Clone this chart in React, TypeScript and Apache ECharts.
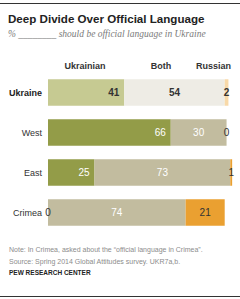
import React, { useEffect, useRef } from "react";
import * as echarts from "echarts";

const categories = ["Ukraine", "West", "East", "Crimea"];
const ukrainian = [41, 66, 25, 0];
const both = [54, 30, 73, 74];
const russian = [2, 0, 1, 21];
const headers = ["Ukrainian", "Both", "Russian"];

const title = "Deep Divide Over Official Language";
const subtitle = "% ________ should be official language in Ukraine";
const note = "Note: In Crimea, asked about the \u201cofficial language in Crimea\u201d.";
const source = "Source: Spring 2014 Global Attitudes survey. UKR7a,b.";
const brand = "PEW RESEARCH CENTER";

const FONT = "'Liberation Sans', Arial, sans-serif";

const lightColors = ["#c6ca92", "#eeece5", "#f8d9a8"];
const darkColors = ["#939c48", "#c2bc9f", "#eaa031"];

export default function App() {
  const ref = useRef<HTMLDivElement>(null);

  useEffect(() => {
    document.body.style.margin = "0";
    if (!ref.current) return;
    const chart = echarts.init(ref.current, null, { renderer: "svg" });

    const mkItems = (vals: number[], si: number) =>
      vals.map((v, i) => {
        const highlight = i === 0;
        let labelColor = "#fff";
        if (highlight || si === 2) labelColor = "#333";
        const item: any = {
          value: v,
          itemStyle: { color: highlight ? lightColors[si] : darkColors[si] },
          label: {
            color: labelColor,
            fontWeight: highlight ? "bold" : "normal",
          },
        };
        if (si === 0 && v === 0) {
          item.label.position = "inside";
          item.label.color = "#333";
        }
        return item;
      });

    const baseLabel = {
      show: true,
      fontSize: 10,
      fontFamily: FONT,
    };

    const header = (text: string, x: number, align: string) => ({
      type: "text",
      x,
      y: 66,
      style: {
        text,
        fontSize: 9,
        fontWeight: "bold",
        fontFamily: FONT,
        fill: "#333",
        align,
        verticalAlign: "middle",
      },
    });

    chart.setOption({
      animation: false,
      textStyle: { fontFamily: FONT },
      grid: { left: 48, width: 186, top: 72.5, height: 160, containLabel: false },
      xAxis: {
        type: "value",
        min: 0,
        max: 100,
        show: false,
      },
      yAxis: {
        type: "category",
        data: categories,
        inverse: true,
        axisLine: { show: false },
        axisTick: { show: false },
        splitLine: { show: false },
        axisLabel: {
          margin: 6,
          formatter: (v: string, i: number) => (i === 0 ? `{b|${v}}` : `{n|${v}}`),
          rich: {
            b: { fontSize: 9, fontWeight: "bold", color: "#222", fontFamily: FONT },
            n: { fontSize: 9, color: "#333", fontFamily: FONT },
          },
        },
      },
      series: [
        {
          name: headers[0],
          type: "bar",
          stack: "all",
          barWidth: 26.5,
          data: mkItems(ukrainian, 0),
          label: { ...baseLabel, position: "insideRight", distance: 5 },
        },
        {
          name: headers[1],
          type: "bar",
          stack: "all",
          barWidth: 26.5,
          data: mkItems(both, 1),
          label: { ...baseLabel, position: "inside" },
        },
        {
          name: headers[2],
          type: "bar",
          stack: "all",
          barWidth: 26.5,
          data: mkItems(russian, 2),
          label: { ...baseLabel, position: "inside" },
        },
      ],
      graphic: [
        { type: "line", shape: { x1: 0, y1: 3.5, x2: 240, y2: 3.5 }, style: { stroke: "#333", lineWidth: 1 } },
        { type: "line", shape: { x1: 0, y1: 296.5, x2: 240, y2: 296.5 }, style: { stroke: "#333", lineWidth: 1 } },
        {
          type: "text",
          left: 8,
          top: 12.5,
          style: { text: title, fontSize: 11.6, fontWeight: "bold", fontFamily: FONT, fill: "#222" },
        },
        {
          type: "text",
          left: 8,
          top: 28.5,
          style: {
            text: subtitle,
            fontSize: 9.5,
            fontStyle: "italic",
            fontFamily: "'Liberation Serif', 'DejaVu Serif', serif",
            fill: "#7a7a7a",
          },
        },
        header(headers[0], 85, "center"),
        header(headers[1], 161, "center"),
        header(headers[2], 231, "right"),
        {
          type: "text",
          x: 9,
          y: 249,
          style: { text: note, fontSize: 7, fontFamily: FONT, fill: "#8c8c8c", verticalAlign: "middle" },
        },
        {
          type: "text",
          x: 9,
          y: 261.5,
          style: { text: source, fontSize: 7, fontFamily: FONT, fill: "#8c8c8c", verticalAlign: "middle" },
        },
        {
          type: "text",
          x: 9,
          y: 272,
          style: { text: brand, fontSize: 6.5, fontWeight: "bold", fontFamily: FONT, fill: "#222", verticalAlign: "middle" },
        },
      ],
    });

    return () => chart.dispose();
  }, []);

  return <div ref={ref} style={{ width: 240, height: 299 }} />;
}
